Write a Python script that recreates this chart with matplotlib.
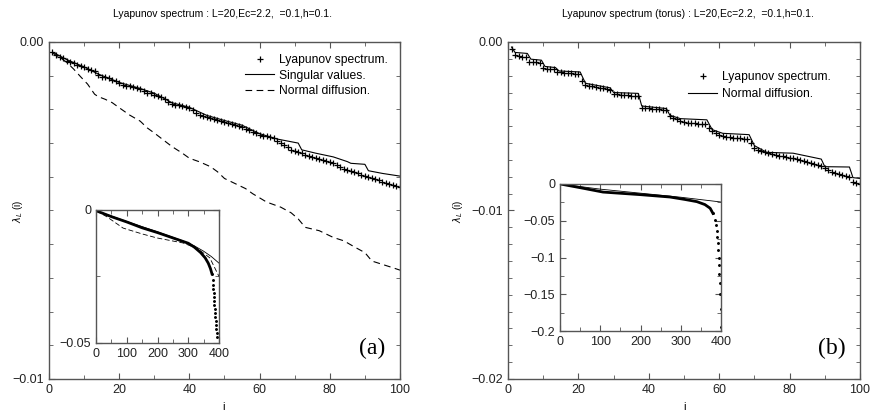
import matplotlib.pyplot as plt
from matplotlib.ticker import FixedLocator, MultipleLocator, FuncFormatter
import numpy as np

plt.rcParams['font.family'] = ['Liberation Sans', 'DejaVu Sans']
plt.rcParams['axes.unicode_minus'] = True

# ---- data (values in units of 1e-3 for the main panels) ----
idx = list(range(1, 101))

lyap_a = [-0.30, -0.38, -0.45, -0.48, -0.55, -0.60, -0.62, -0.68, -0.72, -0.75,
          -0.80, -0.82, -0.85, -0.98, -1.03, -1.05, -1.08, -1.12, -1.15, -1.22,
          -1.27, -1.30, -1.32, -1.35, -1.38, -1.40, -1.45, -1.50, -1.52, -1.56,
          -1.60, -1.63, -1.70, -1.78, -1.84, -1.86, -1.88, -1.91, -1.94, -1.97,
          -2.03, -2.10, -2.17, -2.20, -2.22, -2.25, -2.28, -2.32, -2.35, -2.37,
          -2.40, -2.43, -2.47, -2.50, -2.53, -2.57, -2.62, -2.66, -2.70, -2.75,
          -2.78, -2.80, -2.83, -2.86, -2.93, -3.00, -3.07, -3.13, -3.20, -3.24,
          -3.27, -3.30, -3.34, -3.37, -3.40, -3.43, -3.46, -3.50, -3.53, -3.57,
          -3.60, -3.65, -3.70, -3.76, -3.81, -3.84, -3.87, -3.90, -3.94, -3.98,
          -4.01, -4.04, -4.07, -4.11, -4.15, -4.18, -4.21, -4.24, -4.28, -4.31]

sing_a_i = [1, 5, 10, 14, 20, 26, 30, 35, 40, 45, 50, 55, 60, 65, 71, 72, 76, 81,
            85, 86, 90, 91, 95, 100]
sing_a = [-0.30, -0.52, -0.74, -0.95, -1.20, -1.38, -1.52, -1.80, -1.94, -2.18,
          -2.33, -2.47, -2.72, -2.88, -3.00, -3.20, -3.30, -3.41, -3.55, -3.60,
          -3.63, -3.82, -3.90, -3.98]

diff_a_i = [1, 3, 5, 7, 9, 11, 13, 14, 16, 18, 20, 23, 26, 28, 30, 32.5, 35, 38,
            40, 43, 46, 48, 50, 53, 56, 58, 62, 66, 69, 71, 73, 77, 81, 84, 87,
            90, 92, 95, 98, 100]
diff_a = [-0.33, -0.45, -0.60, -0.80, -1.03, -1.25, -1.55, -1.62, -1.70, -1.80,
          -1.95, -2.17, -2.35, -2.55, -2.70, -2.90, -3.10, -3.30, -3.45, -3.56,
          -3.70, -3.85, -4.05, -4.20, -4.35, -4.50, -4.75, -4.90, -5.07, -5.25,
          -5.50, -5.60, -5.80, -5.90, -6.08, -6.25, -6.50, -6.60, -6.70, -6.77]

lyap_b = [-0.42, -0.77, -0.85, -0.88, -0.90, -1.19, -1.20, -1.21, -1.22, -1.54,
          -1.58, -1.60, -1.62, -1.78, -1.80, -1.82, -1.84, -1.86, -1.88, -1.90,
          -2.30, -2.55, -2.60, -2.64, -2.68, -2.72, -2.76, -2.80, -2.85, -3.09,
          -3.11, -3.13, -3.15, -3.17, -3.19, -3.20, -3.22, -3.90, -3.92, -3.94,
          -3.96, -3.98, -4.00, -4.02, -4.04, -4.40, -4.50, -4.60, -4.70, -4.77,
          -4.79, -4.81, -4.83, -4.85, -4.86, -4.87, -5.10, -5.30, -5.42, -5.52,
          -5.58, -5.64, -5.66, -5.68, -5.70, -5.72, -5.74, -5.76, -6.00, -6.30,
          -6.40, -6.48, -6.55, -6.60, -6.65, -6.70, -6.74, -6.78, -6.82, -6.86,
          -6.90, -6.96, -7.02, -7.08, -7.14, -7.20, -7.25, -7.30, -7.35, -7.50,
          -7.60, -7.70, -7.76, -7.82, -7.88, -7.94, -8.00, -8.30, -8.35, -8.40]

diff_b_i = [1, 2, 5.5, 6.5, 9.5, 10.5, 13.5, 14.5, 20.5, 22, 29, 30, 37, 38, 45,
            46, 49, 56.5, 58, 61, 68.5, 70, 73.5, 81, 89, 90, 97, 98, 100]
diff_b = [-0.30, -0.62, -0.68, -1.02, -1.08, -1.45, -1.52, -1.72, -1.78, -2.45,
          -2.72, -3.00, -3.05, -3.80, -3.95, -4.35, -4.55, -4.62, -5.20, -5.42,
          -5.50, -6.15, -6.55, -6.60, -6.95, -7.40, -7.42, -8.05, -8.10]

# insets (real units); the dense part is drawn as a thick line, the tail as dots
ins_a_lyap_i = [1, 50, 100, 150, 200, 250, 300, 320, 340, 355, 365, 372, 377,
                379, 380, 381, 382, 383, 384, 385, 386, 387, 388, 389, 390, 391, 392, 393]
ins_a_lyap = [-0.0003, -0.0025, -0.0045, -0.0067, -0.0085, -0.0105, -0.0125,
              -0.0140, -0.0160, -0.0180, -0.0200, -0.0220, -0.0240,
              -0.0265, -0.0282, -0.0298, -0.0312, -0.0328, -0.0343, -0.0358,
              -0.0372, -0.0388, -0.0402, -0.0418, -0.0433, -0.0448, -0.0462, -0.0478]
ins_a_sing_i = [1, 100, 200, 280, 320, 350, 375, 400]
ins_a_sing = [-0.0003, -0.0043, -0.0082, -0.0115, -0.0135, -0.0155, -0.0175, -0.0200]
ins_a_diff_i = [1, 36, 88, 150, 198, 283, 330, 370, 400]
ins_a_diff = [-0.0003, -0.0026, -0.0068, -0.0090, -0.0105, -0.0124, -0.0145,
              -0.0180, -0.0250]

ins_b_lyap_i = [1, 50, 107, 200, 273, 310, 340, 360, 373, 380, 385, 388, 390,
                391, 392, 393, 394, 395, 396, 397, 398, 399, 400]
ins_b_lyap = [0.0, -0.005, -0.011, -0.0145, -0.0177, -0.021, -0.024, -0.028,
              -0.033, -0.040, -0.049, -0.056, -0.064, -0.072, -0.080, -0.090,
              -0.100, -0.110, -0.122, -0.135, -0.150, -0.170, -0.195]
ins_b_diff_i = [1, 100, 200, 300, 400]
ins_b_diff = [0.0, -0.007, -0.0125, -0.018, -0.0245]

titles = ["Lyapunov spectrum : L=20,Ec=2.2,  =0.1,h=0.1.",
          "Lyapunov spectrum (torus) : L=20,Ec=2.2,  =0.1,h=0.1."]

spc = '#555555'
fs = 9


def minus(v, fmt):
    s = fmt % v
    return s.replace('-', '\u2212')


def style(ax, lw=1.0):
    for s in ax.spines.values():
        s.set_color(spc)
        s.set_linewidth(lw)
    ax.tick_params(which='both', direction='in', top=True, right=True,
                   colors=spc, labelcolor='#222222', labelsize=fs)
    ax.tick_params(which='major', length=4)
    ax.tick_params(which='minor', length=3)


def inset_curve(ax, xs, ys, cut):
    ax.plot(xs[:cut], ys[:cut], color='black', lw=2.0)
    ax.plot(xs[cut - 1:], ys[cut - 1:], ls='none', marker='.', ms=2.2,
            color='black')


fig = plt.figure(figsize=(8.73, 4.12), dpi=100)

# ---- panel (a) ----
ax = fig.add_axes([0.0561, 0.0801, 0.4021, 0.818])
s = 1e-3
ax.plot(idx, np.array(lyap_a) * s, ls='none', marker='+', ms=5, mew=0.9,
        color='black', label='Lyapunov spectrum.')
ax.plot(sing_a_i, np.array(sing_a) * s, color='black', lw=0.8,
        label='Singular values.')
ax.plot(diff_a_i, np.array(diff_a) * s, color='black', lw=0.8,
        dashes=(6, 4), label='Normal diffusion.')
ax.set_xlim(0, 100)
ax.set_ylim(-0.01, 0)
ax.xaxis.set_major_locator(MultipleLocator(20))
ax.xaxis.set_minor_locator(MultipleLocator(10))
ax.yaxis.set_major_locator(FixedLocator([-0.01, 0.0]))
ax.yaxis.set_minor_locator(MultipleLocator(0.001))
ax.yaxis.set_major_formatter(FuncFormatter(lambda v, p: minus(v, '%.2f')))
style(ax)
ax.legend(loc='upper right', frameon=False, fontsize=8.7, handlelength=2.4,
          handletextpad=0.4, labelspacing=0.3, borderaxespad=0.6)
ax.text(0.92, 0.09, '(a)', transform=ax.transAxes, family='Liberation Serif',
        fontsize=17, ha='center', va='center')
fig.text(224 / 873, 1 - 407 / 412, 'i', ha='center', va='center', fontsize=8)
fig.text(18 / 873, 1 - 211 / 412, r'$\lambda_L$ (i)', rotation=90,
         ha='center', va='center', fontsize=7)
fig.text(223 / 873, 1 - 14 / 412, titles[0], ha='center', va='center', fontsize=7.5)

ia = fig.add_axes([0.110, 0.1675, 0.1409, 0.3228])
inset_curve(ia, ins_a_lyap_i, ins_a_lyap, 13)
ia.plot(ins_a_sing_i, ins_a_sing, color='black', lw=0.6)
ia.plot(ins_a_diff_i, ins_a_diff, color='black', lw=0.6, dashes=(6, 3))
ia.set_xlim(0, 400)
ia.set_ylim(-0.05, 0)
ia.xaxis.set_major_locator(MultipleLocator(100))
ia.xaxis.set_minor_locator(MultipleLocator(50))
ia.yaxis.set_major_locator(FixedLocator([-0.05, 0.0]))
ia.yaxis.set_minor_locator(FixedLocator([-0.025]))
ia.yaxis.set_major_formatter(FuncFormatter(lambda v, p: '0' if v == 0 else minus(v, '%.2f')))
style(ia)

# ---- panel (b) ----
bx = fig.add_axes([0.5819, 0.0801, 0.4032, 0.818])
bx.plot(idx, np.array(lyap_b) * s, ls='none', marker='+', ms=5, mew=0.9,
        color='black', label='Lyapunov spectrum.')
bx.plot(diff_b_i, np.array(diff_b) * s, color='black', lw=0.8,
        label='Normal diffusion.')
bx.set_xlim(0, 100)
bx.set_ylim(-0.02, 0)
bx.xaxis.set_major_locator(MultipleLocator(20))
bx.xaxis.set_minor_locator(MultipleLocator(10))
bx.yaxis.set_major_locator(FixedLocator([-0.02, -0.01, 0.0]))
bx.yaxis.set_minor_locator(MultipleLocator(0.001))
bx.yaxis.set_major_formatter(FuncFormatter(lambda v, p: minus(v, '%.2f')))
style(bx)
bx.legend(loc='upper right', frameon=False, fontsize=8.7, handlelength=2.4,
          handletextpad=0.4, labelspacing=0.4, borderaxespad=2.0)
bx.text(0.92, 0.09, '(b)', transform=bx.transAxes, family='Liberation Serif',
        fontsize=17, ha='center', va='center')
fig.text(685 / 873, 1 - 407 / 412, 'i', ha='center', va='center', fontsize=8)
fig.text(458 / 873, 1 - 211 / 412, r'$\lambda_L$ (i)', rotation=90,
         ha='center', va='center', fontsize=7)
fig.text(688 / 873, 1 - 14 / 412, titles[1], ha='center', va='center', fontsize=7.5)

ib = fig.add_axes([0.6415, 0.1966, 0.1844, 0.3568])
inset_curve(ib, ins_b_lyap_i, ins_b_lyap, 10)
ib.plot(ins_b_diff_i, ins_b_diff, color='black', lw=0.6)
ib.set_xlim(0, 400)
ib.set_ylim(-0.2, 0)
ib.xaxis.set_major_locator(MultipleLocator(100))
ib.xaxis.set_minor_locator(MultipleLocator(50))
ib.yaxis.set_major_locator(MultipleLocator(0.05))
ib.yaxis.set_minor_locator(MultipleLocator(0.025))
ib.yaxis.set_major_formatter(FuncFormatter(lambda v, p: '0' if abs(v) < 1e-9 else minus(v, '%g')))
style(ib)

fig.savefig('out.png', dpi=100)
